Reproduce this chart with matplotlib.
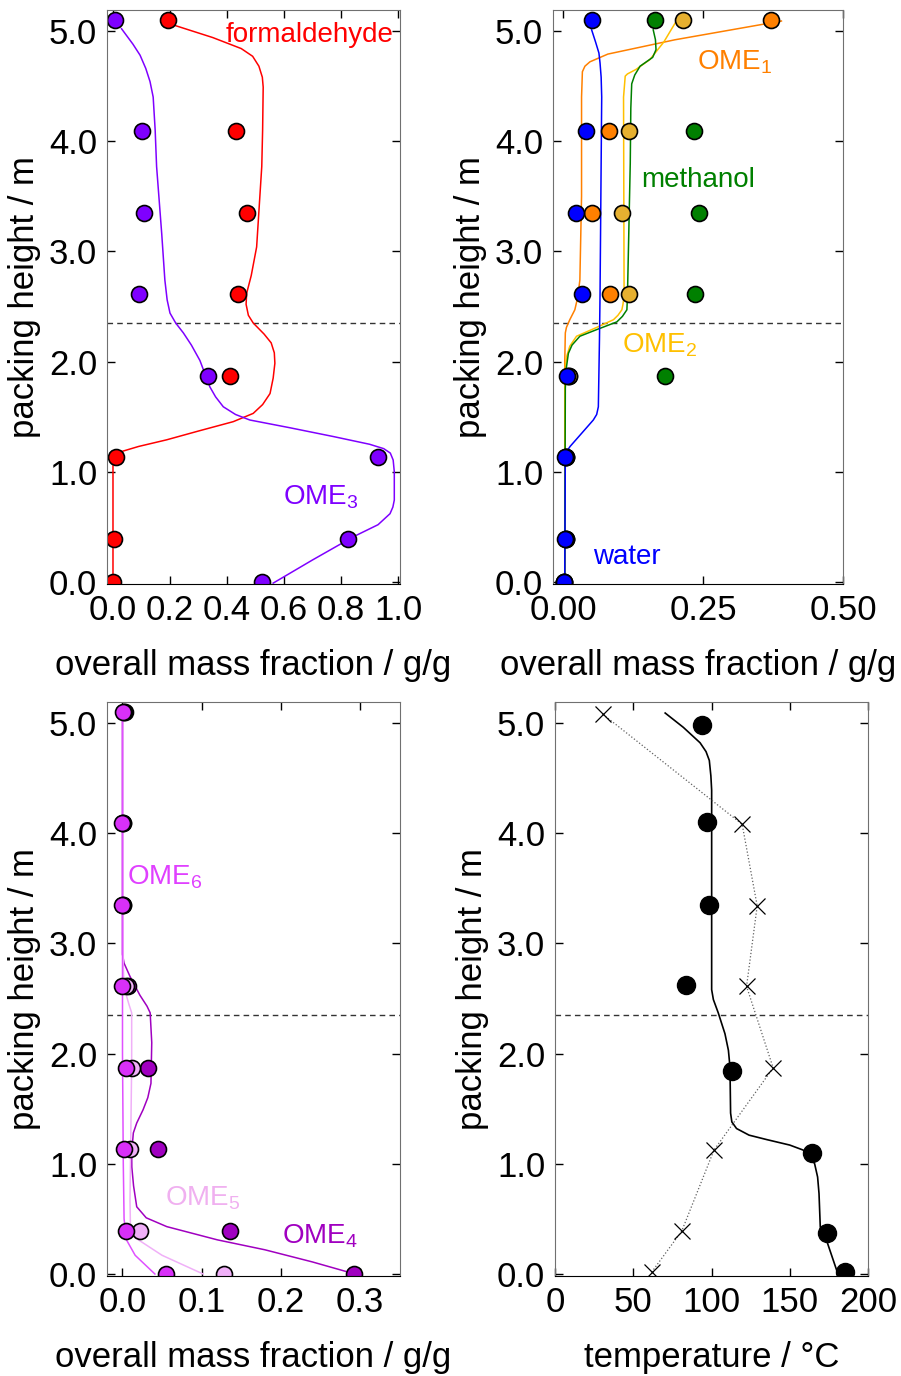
import numpy as np
import matplotlib
matplotlib.use("Agg")
import matplotlib.pyplot as plt

plt.rcParams['font.family'] = ['Liberation Sans', 'DejaVu Sans']
plt.rcParams['mathtext.fontset'] = 'custom'
plt.rcParams['mathtext.rm'] = 'Liberation Sans'
plt.rcParams['mathtext.default'] = 'regular'

# packing heights of the sampling points (m)
h_exp = [5.1, 4.09, 3.35, 2.61, 1.87, 1.13, 0.39, 0.0]
h_temp = [4.98, 4.10, 3.35, 2.62, 1.84, 1.10, 0.37, 0.02]
h_tsim2 = [5.08, 4.08, 3.34, 2.61, 1.87, 1.125, 0.39, 0.02]
h_feed = 2.35

# top left: formaldehyde and OME3
fa_exp = [0.192, 0.43, 0.471, 0.44, 0.41, 0.01, 0.005, 0.001]
ome3_exp = [0.007, 0.103, 0.11, 0.092, 0.334, 0.929, 0.826, 0.524]
fa_sim_x = [0.217, 0.35, 0.45, 0.49, 0.512, 0.524, 0.527, 0.525, 0.522, 0.504, 0.485, 0.469, 0.467, 0.475,
            0.492, 0.53, 0.555, 0.566, 0.568, 0.562, 0.551, 0.525, 0.492, 0.422, 0.30, 0.188, 0.09, 0.025,
            0.008, 0.002, 0.0, 0.0]
fa_sim_y = [5.05, 4.94, 4.84, 4.77, 4.68, 4.58, 4.49, 4.1, 3.77, 3.04, 2.78, 2.62, 2.52, 2.42,
            2.35, 2.25, 2.17, 2.08, 1.985, 1.85, 1.71, 1.61, 1.53, 1.455, 1.37, 1.29, 1.23, 1.18,
            1.14, 1.10, 1.05, 0.0]
ome3_sim_x = [0.03, 0.07, 0.095, 0.115, 0.13, 0.141, 0.148, 0.153, 0.171, 0.182, 0.19, 0.2, 0.22, 0.247, 0.275,
              0.305, 0.34, 0.36, 0.387, 0.43, 0.48, 0.62, 0.773, 0.90, 0.95, 0.973, 0.983, 0.987, 0.987, 0.982,
              0.972, 0.93, 0.843, 0.70, 0.562]
ome3_sim_y = [5.02, 4.88, 4.78, 4.66, 4.54, 4.40, 4.1, 3.77, 3.16, 2.74, 2.56, 2.44, 2.35, 2.26, 2.15,
              2.01, 1.77, 1.68, 1.59, 1.52, 1.47, 1.40, 1.32, 1.25, 1.21, 1.17, 1.107, 1.0, 0.744, 0.68,
              0.62, 0.52, 0.41, 0.20, -0.01]

# top right: water, methanol, OME1, OME2
water_exp = [0.051, 0.0405, 0.0226, 0.0345, 0.0066, 0.0036, 0.004, 0.002]
meoh_exp = [0.164, 0.233, 0.243, 0.236, 0.182, 0.005, 0.006, 0.002]
ome1_exp = [0.371, 0.082, 0.052, 0.084, 0.01, 0.005, 0.006, 0.002]
ome2_exp = [0.215, 0.117, 0.105, 0.117, 0.01, 0.005, 0.006, 0.002]
ome1_sim_x = [0.39, 0.20, 0.08, 0.048, 0.039, 0.0345, 0.033, 0.033, 0.03, 0.026, 0.021, 0.012, 0.006, 0.004,
              0.003, 0.003]
ome1_sim_y = [5.09, 4.92, 4.79, 4.72, 4.68, 4.63, 4.4, 3.5, 2.74, 2.58, 2.47, 2.38, 2.31, 2.26, 2.0, 0.0]
water_sim_x = [0.051, 0.058, 0.064, 0.066, 0.068, 0.069, 0.066, 0.065, 0.063, 0.06, 0.054, 0.035, 0.0125,
               0.006, 0.004, 0.003]
water_sim_y = [5.01, 4.90, 4.80, 4.71, 4.58, 4.40, 2.6, 2.2, 1.59, 1.52, 1.47, 1.36, 1.23, 1.18, 1.15, 0.0]
ome2_sim_x = [0.2, 0.18, 0.155, 0.13, 0.115, 0.111, 0.108, 0.109, 0.107, 0.105, 0.098, 0.09, 0.06, 0.024,
              0.012, 0.0066, 0.004, 0.003, 0.003]
ome2_sim_y = [5.07, 4.90, 4.74, 4.65, 4.61, 4.59, 4.4, 2.6, 2.52, 2.47, 2.42, 2.38, 2.31, 2.23, 2.14, 2.05,
              1.95, 1.8, 0.0]
meoh_sim_x = [0.161, 0.165, 0.166, 0.16, 0.1375, 0.128, 0.1226, 0.121, 0.12, 0.115, 0.114, 0.106, 0.096, 0.06,
              0.03, 0.016, 0.0095, 0.006, 0.004, 0.003]
meoh_sim_y = [5.01, 4.92, 4.83, 4.76, 4.68, 4.60, 4.52, 4.3, 3.8, 2.6, 2.47, 2.41, 2.36, 2.29, 2.23, 2.15,
              2.075, 1.95, 1.76, 0.0]

# bottom left: OME4, OME5, OME6
ome4_exp = [0.003, 0.001, 0.001, 0.007, 0.032, 0.045, 0.136, 0.293]
ome5_exp = [0.002, 0.001, 0.001, 0.005, 0.0116, 0.0095, 0.022, 0.128]
ome6_exp = [0.001, 0.0, 0.0, 0.0, 0.0044, 0.0023, 0.004, 0.055]
ome4_sim_x = [0.0, 0.0, 0.002, 0.0095, 0.022, 0.031, 0.035, 0.037, 0.036, 0.032, 0.026, 0.018, 0.0137, 0.0116,
              0.0118, 0.014, 0.018, 0.03, 0.056, 0.12, 0.18, 0.24, 0.294]
ome4_sim_y = [5.1, 2.9, 2.82, 2.70, 2.53, 2.43, 2.37, 2.1, 1.73, 1.60, 1.49, 1.37, 1.28, 1.1,
              0.97, 0.80, 0.61, 0.51, 0.43, 0.31, 0.22, 0.11, 0.0]
ome5_sim_x = [0.0, 0.001, 0.002, 0.008, 0.0116, 0.0116, 0.0095, 0.01, 0.0137, 0.05, 0.102]
ome5_sim_y = [5.1, 2.8, 2.6, 2.45, 2.37, 1.9, 0.67, 0.45, 0.34, 0.17, 0.0]
ome6_sim_x = [0.0, 0.0, 0.001, 0.002, 0.005, 0.016, 0.041]
ome6_sim_y = [5.1, 2.0, 1.0, 0.5, 0.31, 0.17, 0.0]

# bottom right: temperature
t_exp = [93.7, 96.9, 98.6, 83.6, 112.8, 164.4, 173.8, 185.5]
t_sim2 = [30.5, 119.6, 129.2, 122.4, 139.4, 101.6, 81.0, 61.9]
t_sim_x = [70.4, 82.0, 92.7, 96.5, 98.6, 99.6, 100.1, 100.1, 101.2, 104.3, 108.6, 110.8, 111.8, 112.2,
           113.0, 116.0, 124.0, 135.2, 150.0, 158.5, 163.0, 165.9, 167.8, 168.7, 169.5, 170.5, 173.4, 180.8]
t_sim_y = [5.09, 4.96, 4.82, 4.74, 4.66, 4.52, 4.39, 2.58, 2.49, 2.37, 2.18, 2.03, 1.88, 1.46,
           1.38, 1.32, 1.26, 1.22, 1.17, 1.125, 1.07, 1.0, 0.88, 0.73, 0.43, 0.37, 0.31, 0.0]

W, H = 901, 1376
fig = plt.figure(figsize=(W / 100, H / 100), dpi=100)


def make_ax(l, r, t, b):
    ax = fig.add_axes([l / W, 1 - b / H, (r - l) / W, (b - t) / H])
    ax.tick_params(direction='in', top=True, right=True, length=6, width=1,
                   labelsize=25, pad=7)
    for s in ['left', 'right', 'top']:
        ax.spines[s].set_color('#707070')
    ax.spines['bottom'].set_color('black')
    ax.set_ylim(-0.018, 5.19)
    ax.set_yticks([0, 1, 2, 3, 4, 5])
    ax.set_yticklabels(['0.0', '1.0', '2.0', '3.0', '4.0', '5.0'])
    ax.set_ylabel('packing height / m', fontsize=25, labelpad=6)
    ax.axhline(h_feed, color='#333333', lw=1, ls=(0, (4, 3)), zorder=1)
    return ax


mk = dict(marker='o', ms=11.5, mec='black', mew=1.2, ls='none')

# top left
ax1 = make_ax(107, 400, 10, 584)
ax1.plot(fa_sim_x, fa_sim_y, color='#ff0000', lw=1.1)
ax1.plot(ome3_sim_x, ome3_sim_y, color='#7f00ff', lw=1.1)
ax1.plot(fa_exp, h_exp, mfc='#ff0000', **mk)
ax1.plot(ome3_exp, h_exp, mfc='#7f00ff', **mk)
ax1.set_xlim(-0.021, 1.007)
ax1.set_xticks([0, 0.2, 0.4, 0.6, 0.8, 1.0])
ax1.set_xticklabels(['0.0', '0.2', '0.4', '0.6', '0.8', '1.0'])
ax1.set_xlabel('overall mass fraction / g/g', fontsize=25, labelpad=16)
ax1.text(0.985, 4.96, 'formaldehyde', color='#ff0000', fontsize=20, ha='right', va='center')
ax1.text(0.73, 0.77, 'OME$_3$', color='#7f00ff', fontsize=20, ha='center', va='center')

# top right
ax2 = make_ax(553, 843, 10, 584)
ax2.plot(ome1_sim_x, ome1_sim_y, color='#ff8000', lw=1.1)
ax2.plot(ome2_sim_x, ome2_sim_y, color='#ffc000', lw=1.1)
ax2.plot(meoh_sim_x, meoh_sim_y, color='#008000', lw=1.1)
ax2.plot(water_sim_x, water_sim_y, color='#0000ff', lw=1.1)
ax2.plot(ome1_exp, h_exp, mfc='#ff8000', **mk)
ax2.plot(ome2_exp, h_exp, mfc='#e6b030', **mk)
ax2.plot(meoh_exp, h_exp, mfc='#008000', **mk)
ax2.plot(water_exp, h_exp, mfc='#0000ff', **mk)
ax2.set_xlim(-0.018, 0.5)
ax2.set_xticks([0, 0.25, 0.5])
ax2.set_xticklabels(['0.00', '0.25', '0.50'])
ax2.set_xlabel('overall mass fraction / g/g', fontsize=25, labelpad=16)
ax2.text(0.307, 4.72, 'OME$_1$', color='#ff8000', fontsize=20, ha='center', va='center')
ax2.text(0.241, 3.65, 'methanol', color='#008000', fontsize=20, ha='center', va='center')
ax2.text(0.173, 2.15, 'OME$_2$', color='#ffc000', fontsize=20, ha='center', va='center')
ax2.text(0.114, 0.23, 'water', color='#0000ff', fontsize=20, ha='center', va='center')

# bottom left
ax3 = make_ax(107, 400, 702, 1276)
ax3.plot(ome4_sim_x, ome4_sim_y, color='#a000c0', lw=1.1)
ax3.plot(ome5_sim_x, ome5_sim_y, color='#f0b0f8', lw=1.1)
ax3.plot(ome6_sim_x, ome6_sim_y, color='#e050ff', lw=1.1)
ax3.plot(ome4_exp, h_exp, mfc='#a000c0', **mk)
ax3.plot(ome5_exp, h_exp, mfc='#f0b0f8', **mk)
ax3.plot(ome6_exp, h_exp, mfc='#d830f8', **mk)
ax3.set_xlim(-0.0196, 0.351)
ax3.set_xticks([0, 0.1, 0.2, 0.3])
ax3.set_xticklabels(['0.0', '0.1', '0.2', '0.3'])
ax3.set_xlabel('overall mass fraction / g/g', fontsize=25, labelpad=16)
ax3.text(0.006, 3.6, 'OME$_6$', color='#e040ff', fontsize=20, ha='left', va='center')
ax3.text(0.054, 0.69, 'OME$_5$', color='#f0b0f0', fontsize=20, ha='left', va='center')
ax3.text(0.202, 0.34, 'OME$_4$', color='#a000c0', fontsize=20, ha='left', va='center')

# bottom right
ax4 = make_ax(555, 868, 702, 1276)
ax4.plot(t_sim_x, t_sim_y, color='black', lw=1.2)
ax4.plot(t_sim2, h_tsim2, color='#606060', lw=0.9, ls=':', marker='x',
         ms=11, mec='black', mew=0.9)
ax4.plot(t_exp, h_temp, marker='o', ms=13, color='black', ls='none')
ax4.set_xlim(0, 200)
ax4.set_xticks([0, 50, 100, 150, 200])
ax4.set_xlabel('temperature / °C', fontsize=25, labelpad=16)

fig.savefig('out.png', dpi=100)
